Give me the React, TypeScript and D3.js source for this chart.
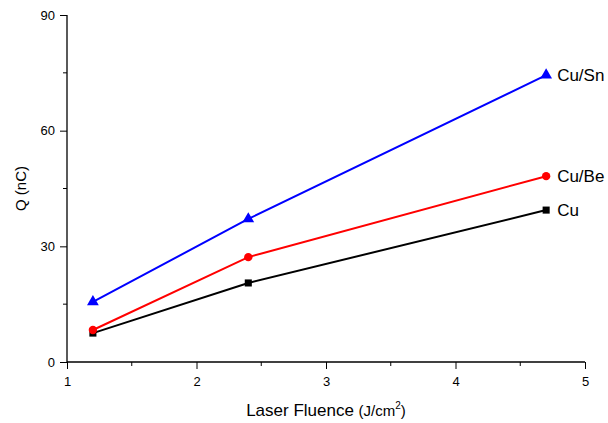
import React from "react";
import * as d3 from "d3";

const fluence = [1.2, 2.4, 4.7];
const cuValues = [7.5, 20.5, 39.4];
const cuBeValues = [8.3, 27.2, 48.2];
const cuSnValues = [15.6, 37.1, 74.4];
const xTicks = [1, 2, 3, 4, 5];
const yTicks = [0, 30, 60, 90];

const series = [
  { name: "Cu", values: cuValues, color: "#000000", symbol: d3.symbolSquare, size: 50 },
  { name: "Cu/Be", values: cuBeValues, color: "#ff0000", symbol: d3.symbolCircle, size: 55 },
  { name: "Cu/Sn", values: cuSnValues, color: "#0000ff", symbol: d3.symbolTriangle, size: 60 },
];

const W = 608;
const H = 423;
const margin = { top: 15, right: 23, bottom: 61, left: 67 };
const font = "Liberation Sans, Arial, sans-serif";

const App = () => {
  const x = d3.scaleLinear().domain([1, 5]).range([margin.left, W - margin.right]);
  const y = d3.scaleLinear().domain([0, 90]).range([H - margin.bottom, margin.top]);

  const xAxis = (ref: SVGGElement | null) => {
    if (!ref) return;
    const g = d3.select(ref);
    g.selectAll("*").remove();
    g.call(d3.axisBottom(x).tickValues(xTicks).tickSize(7).tickFormat(d3.format("d")));
    g.append("g")
      .selectAll("line")
      .data([1.5, 2.5, 3.5, 4.5])
      .join("line")
      .attr("x1", (d) => x(d))
      .attr("x2", (d) => x(d))
      .attr("y1", 0)
      .attr("y2", 4)
      .attr("stroke", "#000");
    g.select(".domain").attr("d", `M${x(1)},0H${x(5)}`).attr("stroke-width", 1.3);
    g.selectAll("text").attr("font-size", 13).attr("font-family", font).attr("dy", "1.1em");
  };

  const yAxis = (ref: SVGGElement | null) => {
    if (!ref) return;
    const g = d3.select(ref);
    g.selectAll("*").remove();
    g.call(d3.axisLeft(y).tickValues(yTicks).tickSize(7).tickPadding(5));
    g.append("g")
      .selectAll("line")
      .data([15, 45, 75])
      .join("line")
      .attr("x1", 0)
      .attr("x2", -4)
      .attr("y1", (d) => y(d))
      .attr("y2", (d) => y(d))
      .attr("stroke", "#000");
    g.select(".domain").attr("d", `M0,${y(0)}V${y(90)}`).attr("stroke-width", 1.3);
    g.selectAll("text").attr("font-size", 13).attr("font-family", font);
  };

  const line = d3
    .line<number>()
    .x((_, i) => x(fluence[i]))
    .y((d) => y(d));

  return (
    <svg width={W} height={H} style={{ position: "absolute", left: 0, top: 0, background: "#fff" }}>
      <g ref={xAxis} transform={`translate(0,${y(0)})`} />
      <g ref={yAxis} transform={`translate(${x(1)},0)`} />
      {series.map((s) => (
        <g key={s.name}>
          <path d={line(s.values) || ""} fill="none" stroke={s.color} strokeWidth={2} />
          {s.values.map((v, i) => (
            <path
              key={i}
              d={d3.symbol().type(s.symbol).size(s.size)() || ""}
              transform={`translate(${x(fluence[i])},${y(v)})`}
              fill={s.color}
            />
          ))}
          <text
            x={x(fluence[fluence.length - 1]) + 11}
            y={y(s.values[s.values.length - 1])}
            dy="0.35em"
            fontSize={17}
            fontFamily={font}
          >
            {s.name}
          </text>
        </g>
      ))}
      <text
        transform={`translate(21,${(y(0) + y(90)) / 2}) rotate(-90)`}
        textAnchor="middle"
        dy="0.35em"
        fontSize={15}
        fontFamily={font}
      >
        Q (nC)
      </text>
      <text
        x={(x(1) + x(5)) / 2}
        y={416}
        textAnchor="middle"
        fontSize={17}
        fontFamily={font}
      >
        Laser Fluence <tspan fontSize={15}>(J/cm</tspan>
        <tspan fontSize={10} dy={-7}>2</tspan>
        <tspan fontSize={15} dy={7}>)</tspan>
      </text>
    </svg>
  );
};

export default App;
